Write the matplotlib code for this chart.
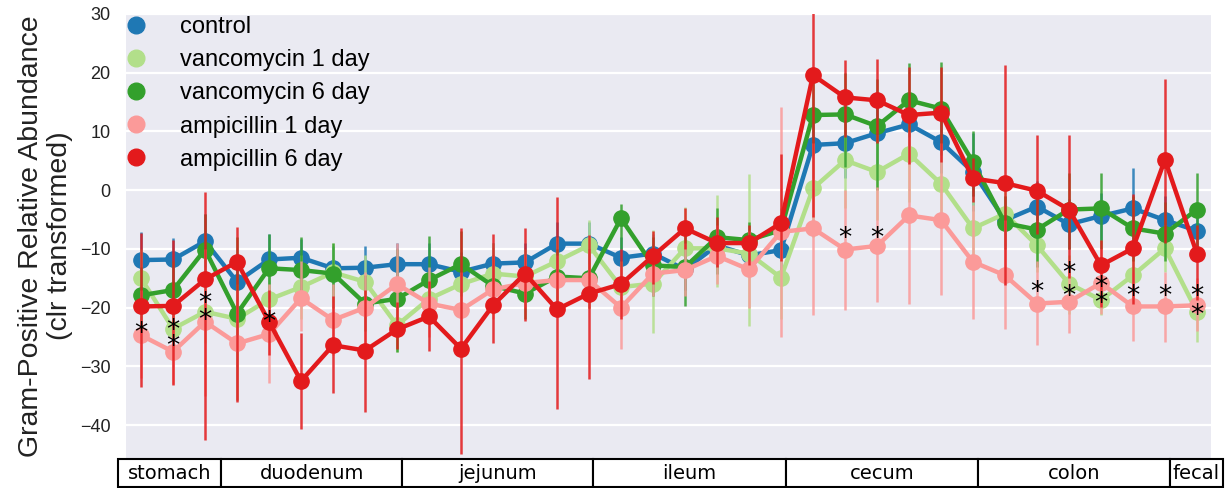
import matplotlib
matplotlib.use("Agg")
import matplotlib.pyplot as plt
from matplotlib.lines import Line2D
from matplotlib.patches import Rectangle
import matplotlib.transforms as mtransforms

plt.rcParams['font.family'] = ['Liberation Sans', 'DejaVu Sans']

# groups and their colours
groups = ['control', 'vancomycin 1 day', 'vancomycin 6 day', 'ampicillin 1 day', 'ampicillin 6 day']
colors = ['#1f78b4', '#b2df8a', '#33a02c', '#fb9a99', '#e31a1c']

# gut regions along the x axis (number of sampling sites per region)
regions = ['stomach', 'duodenum', 'jejunum', 'ileum', 'cecum', 'colon', 'fecal']
region_sites = [3, 6, 6, 6, 6, 6, 1]

# mean clr values per site
control = [-11.9, -11.8, -8.7, -15.6, -11.8, -11.5, -13.3, -13.2, -12.6, -12.6, -13.9, -12.5, -12.3, -9.1, -9.1, -11.5, -10.8,
           -13.5, -9.4, -11.1, -10.2, 7.7, 8.0, 9.7, 11.2, 8.2, 3.1, -5.1, -2.8, -5.8, -4.4, -3.1, -5.1, -6.9]
vanc1 = [-15.0, -23.6, -20.7, -21.9, -18.6, -16.5, -14.0, -15.6, -23.0, -18.5, -16.0, -14.2, -14.7, -12.1, -9.4, -16.5, -15.9,
         -9.9, -9.9, -10.8, -14.9, 0.3, 5.1, 3.1, 6.2, 1.1, -6.5, -4.0, -9.4, -15.9, -18.7, -14.5, -9.9, -20.7]
vanc6 = [-17.9, -17.0, -10.1, -21.0, -13.3, -13.6, -14.2, -19.3, -18.5, -15.3, -12.6, -16.3, -17.6, -14.7, -15.0, -4.8, -12.8,
         -13.1, -8.0, -8.5, -6.8, 12.8, 12.9, 10.9, 15.3, 13.9, 4.8, -5.6, -6.7, -3.3, -3.1, -6.5, -7.4, -3.3]
amp1 = [-24.7, -27.5, -22.4, -26.1, -24.5, -18.4, -22.1, -20.0, -16.0, -19.3, -20.4, -16.9, -15.8, -15.3, -15.3, -20.0, -14.2,
        -13.6, -11.2, -13.5, -7.1, -6.5, -10.1, -9.5, -4.3, -5.1, -12.2, -14.5, -19.3, -19.0, -15.8, -19.8, -19.8, -19.6]
amp6 = [-19.8, -19.7, -15.2, -12.2, -22.4, -32.5, -26.4, -27.3, -23.7, -21.5, -27.0, -19.6, -14.2, -20.3, -17.6, -16.0, -11.2,
        -6.5, -9.0, -9.0, -5.6, 19.6, 15.8, 15.3, 12.8, 13.2, 2.0, 1.2, -0.1, -3.3, -12.8, -9.9, 5.2, -10.8]

# confidence intervals (lower / upper)
control_lo = [-16.5, -16, -13, -20, -16, -15, -17, -17, -16, -16, -17, -16, -16, -12.5, -12.5, -15, -14, -17, -13, -14.5, -14,
              2, 2, 4, 6, 3, -3.5, -9.5, -7, -10, -8.5, -10, -9, -11]
control_hi = [-7.1, -8.2, -4, -11, -7.5, -8.3, -9.5, -9.5, -9.0, -9, -10.5, -9, -9, -5.5, -5.5, -8, -7.5, -10, -6, -7.5, -6,
              13, 14, 15, 16, 13.5, 9.7, -1, 1.5, -1.5, -0.5, 3.7, -1, -3]
vanc1_lo = [-20, -28, -26, -28, -24, -22, -19, -20, -27.5, -23, -21, -19, -19, -16, -14, -21, -24.3, -15, -16.5, -23.2, -22,
            -8, -3, -5, -2, -6, -12, -9, -14, -21, -21.3, -19, -14, -25.8]
vanc1_hi = [-10, -19, -15, -16, -13, -11, -9, -11.1, -18.5, -14, -11, -9, -10, -8, -5.1, -12, -6.7, -2.8, -0.9, 2.8, -6,
            8, 12, 11, 14, 8, -1, 1, -5, -11, -16, -10, -6, -16]
vanc6_lo = [-23, -22, -16, -35.8, -19, -19, -20, -24, -27.5, -22, -18, -21, -22, -19, -20, -10, -18, -19.8, -14.2, -13, -10,
            6, 4, 0, 9, 6, -1, -10, -13, -10, -10, -12, -12, -9.5]
vanc6_hi = [-13, -12, -4, -8, -7.5, -8, -9.0, -14.5, -10, -7.8, -7, -11, -13, -10, -10, -2.3, -8, -6, -3.1, -5.4, -3,
            20, 20, 19, 21.7, 21.9, 10, -1, -1, 3, 2.9, -1, -2, 2.9]
amp1_lo = [-32, -33, -35, -35.8, -32.9, -24, -28, -26, -23, -25, -27, -22, -20, -19, -20, -27.1, -18, -18, -16, -20, -25.0,
           -21.3, -20.4, -19.0, -19.3, -17.9, -21.9, -23.6, -26.4, -24.4, -21, -25.7, -25.8, -24]
amp1_hi = [-17, -21, -10, -17, -16, -12, -16, -14, -9, -13, -14, -11, -11, -11, -10, -13, -10, -9, -6, -7, 14.1,
           8, 0, 0.5, 10, 8, -2.5, -5, -12, -13, -10, -14, -14, -15]
amp6_lo = [-33.5, -33.2, -42.5, -36, -28, -40.6, -34.6, -37.8, -27, -27.3, -44.9, -26.0, -22.3, -37.2, -32.1, -22, -16, -10,
           -13, -12.8, -12, -4.5, 9, 8, 4.5, 4.8, -2, -16.2, -7.4, -15, -19.9, -19.3, -9, -18.7]
amp6_hi = [-7.3, -8.5, -0.3, -6.2, -17, -24.4, -18, -17, -19, -15.5, -6.5, -7.4, -6.5, -1.1, -7.7, -10, -7, -3, -4.6, -6.0,
           6.1, 32, 22.1, 22.4, 21, 21.0, 5.4, 21.3, 9.4, 9.4, -8.5, -0.6, 19, -6]

# significance stars (site index, height)
star_site = [0, 1, 1, 2, 2, 4, 22, 23, 28, 29, 29, 30, 30, 31, 32, 33, 33]
star_y = [-23.0, -22.4, -25.2, -17.9, -20.7, -21.0, -6.8, -6.8, -15.9, -12.8, -16.7, -15.2, -17.9, -16.7, -16.7, -16.6, -19.8]

means = [control, vanc1, vanc6, amp1, amp6]
lows = [control_lo, vanc1_lo, vanc6_lo, amp1_lo, amp6_lo]
highs = [control_hi, vanc1_hi, vanc6_hi, amp1_hi, amp6_hi]

fig = plt.figure(figsize=(12.25, 4.88), dpi=100)
ax = fig.add_axes([126 / 1225, 30 / 488, 1085 / 1225, 444 / 488])
ax.set_facecolor('#EAEAF2')
for s in ax.spines.values():
    s.set_visible(False)

x = list(range(len(control)))
for i, (m, lo, hi) in enumerate(zip(means, lows, highs)):
    z = 2 + i
    ax.vlines(x, lo, hi, color=colors[i], lw=1.8, alpha=0.85, zorder=z)
    ax.plot(x, m, color=colors[i], lw=3.2, marker='o', ms=11, zorder=z + 0.5)

for xs, ys in zip(star_site, star_y):
    ax.annotate('*', (xs, ys), xytext=(0, -6.5), textcoords='offset points', ha='center', va='center',
                fontsize=19, family='DejaVu Sans', color='black', zorder=10)

ax.set_xlim(-0.47, 33.44)
ax.set_ylim(-45.6, 30)
ax.set_yticks(range(-40, 31, 10))
ax.set_xticks([])
ax.tick_params(axis='y', length=0, pad=11, labelsize=13, labelcolor='#222222')
ax.yaxis.grid(True, color='white', lw=1.6)
ax.set_axisbelow(True)
ax.set_ylabel('Gram-Positive Relative Abundance\n(clr transformed)', fontsize=20.5, labelpad=5, color='#222222',
              linespacing=1.15)

# legend, markers only
handles = [Line2D([], [], ls='none', marker='o', ms=12, color=c) for c in colors]
ax.legend(handles, groups, loc='upper left', bbox_to_anchor=(0, 0.995), borderaxespad=0, borderpad=0,
          frameon=False, fontsize=17, handlelength=0.85, handletextpad=1.44, labelspacing=0.47)

# region boxes underneath the axis
trans = mtransforms.blended_transform_factory(ax.transData, ax.transAxes)
edges = [-0.72, 2.5, 8.16, 14.13, 20.16, 26.16, 32.16, 33.81]
for k, name in enumerate(regions):
    r = Rectangle((edges[k], -0.065), edges[k + 1] - edges[k], 0.063, transform=trans, clip_on=False,
                  facecolor='white', edgecolor='black', lw=1.5)
    ax.add_patch(r)
    ax.text((edges[k] + edges[k + 1]) / 2, -0.034, name, transform=trans, ha='center', va='center',
            fontsize=14, family='DejaVu Sans')

fig.savefig('out.png', dpi=100)
